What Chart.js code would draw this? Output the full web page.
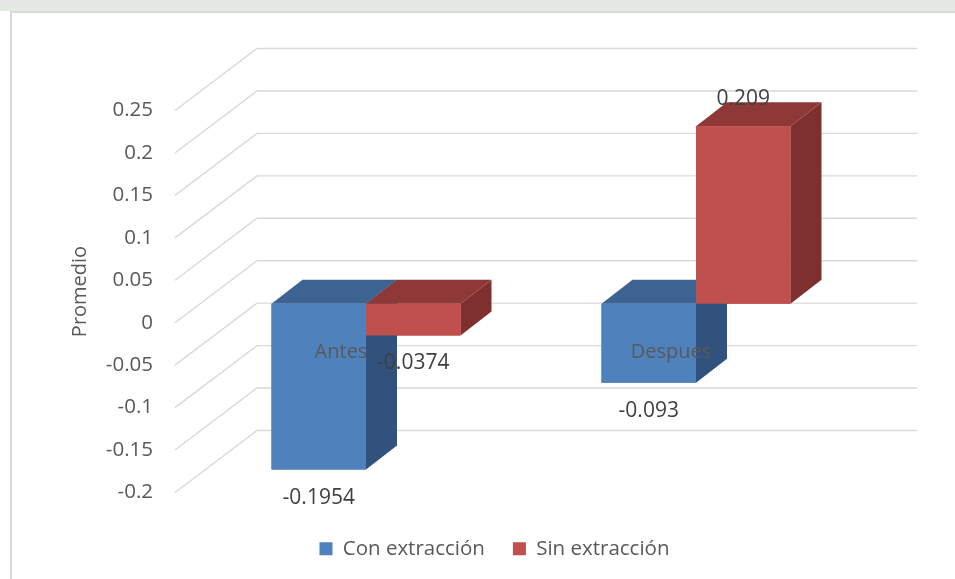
<!DOCTYPE html>
<html>
<head>
<meta charset="utf-8">
<script src="https://cdn.jsdelivr.net/npm/chart.js@4"></script>
<style>
html, body { margin: 0; padding: 0; background: #fff; }
#wrap { position: relative; width: 955px; height: 579px; overflow: hidden; background: #fff; }
#band { position: absolute; left: 0; top: 0; width: 955px; height: 11px; background: #e4e8e3; }
#frame { position: absolute; left: 10px; top: 11px; width: 980px; height: 620px; border: 2px solid #d9d9d9; box-sizing: border-box; background: #fff; }
canvas { position: absolute; left: 0; top: 0; }
</style>
</head>
<body>
<div id="wrap">
  <div id="band"></div>
  <div id="frame"></div>
  <canvas id="chart" width="955" height="579"></canvas>
</div>
<script>
/* --- Datos --- */
const categories = ['Antes', 'Despues'];
const seriesNames = ['Con extracción', 'Sin extracción'];
const conExtraccion = [-0.1954, -0.093];
const sinExtraccion = [-0.0374, 0.209];
const yTickValues = [-0.2, -0.15, -0.1, -0.05, 0, 0.05, 0.1, 0.15, 0.2, 0.25];
const axisTitle = 'Promedio';

/* --- Estilo --- */
const FONT = "'Open Sans', sans-serif";
const TXT = '#595959';
const LABEL_TXT = '#404040';
const BLUE = '#4F81BD';
const RED = '#C0504D';
const shade = {
  [BLUE]: { top: '#3D6392', side: '#30527C' },
  [RED]: { top: '#8E3937', side: '#7E302F' }
};
// desplazamientos de la perspectiva 3D (pixeles)
const BACK = { dx: 56, dy: -43 };
const FRONT = { dx: -26, dy: 19 };
const DEPTH = { dx: 31, dy: -24 };

function poly(ctx, pts, color){
  ctx.beginPath();
  ctx.moveTo(pts[0][0], pts[0][1]);
  for (let i = 1; i < pts.length; i++) ctx.lineTo(pts[i][0], pts[i][1]);
  ctx.closePath();
  ctx.fillStyle = color;
  ctx.fill();
}

function fmt(v){ return String(+v.toFixed(4)); }

/* --- Paredes y lineas de cuadricula --- */
const walls = {
  id: 'walls',
  beforeDatasetsDraw(chart){
    const { ctx, chartArea: a, scales: { y } } = chart;
    ctx.save();
    ctx.strokeStyle = '#d9d9d9';
    ctx.lineWidth = 1.4;
    yTickValues.forEach(v => {
      const py = y.getPixelForValue(v);
      ctx.beginPath();
      ctx.moveTo(a.left + FRONT.dx, py + FRONT.dy);
      ctx.lineTo(a.left + BACK.dx, py + BACK.dy);
      ctx.lineTo(a.right + BACK.dx, py + BACK.dy);
      ctx.stroke();
    });
    // titulo del eje
    const mid = (y.getPixelForValue(yTickValues[0]) + y.getPixelForValue(yTickValues[yTickValues.length - 1])) / 2 + FRONT.dy - 10;
    ctx.fillStyle = TXT;
    ctx.font = `20px ${FONT}`;
    ctx.textAlign = 'center';
    ctx.textBaseline = 'middle';
    ctx.translate(80, mid);
    ctx.rotate(-Math.PI / 2);
    ctx.fillText(axisTitle, 0, 0);
    ctx.restore();
  }
};

/* --- Barras en 3D + etiquetas de datos --- */
const boxes = {
  id: 'boxes',
  afterDatasetsDraw(chart){
    const { ctx } = chart;
    const items = [];
    ctx.save();
    categories.forEach((c, i) => {
      chart.data.datasets.forEach((ds, d) => {
        const bar = chart.getDatasetMeta(d).data[i];
        const { x, y, base, width } = bar.getProps(['x', 'y', 'base', 'width'], true);
        const l = x - width / 2, r = x + width / 2;
        const t = Math.min(y, base), b = Math.max(y, base);
        const col = ds.backgroundColor;
        poly(ctx, [[r, t], [r + DEPTH.dx, t + DEPTH.dy], [r + DEPTH.dx, b + DEPTH.dy], [r, b]], shade[col].side);
        poly(ctx, [[l, t], [l + DEPTH.dx, t + DEPTH.dy], [r + DEPTH.dx, t + DEPTH.dy], [r, t]], shade[col].top);
        ctx.fillStyle = col;
        ctx.fillRect(l, t, r - l, b - t);
        const v = ds.data[i];
        items.push({ x, y: v < 0 ? b + 28 : t - 27, text: fmt(v) });
      });
    });
    ctx.fillStyle = LABEL_TXT;
    ctx.font = `21px ${FONT}`;
    ctx.textAlign = 'center';
    ctx.textBaseline = 'middle';
    items.forEach(it => ctx.fillText(it.text, it.x, it.y));
    ctx.restore();
  }
};

const chart = new Chart(document.getElementById('chart').getContext('2d'), {
  type: 'bar',
  data: {
    labels: categories,
    datasets: [
      { label: seriesNames[0], data: conExtraccion, backgroundColor: BLUE, borderWidth: 0, xAxisID: 'x', yAxisID: 'y' },
      { label: seriesNames[1], data: sinExtraccion, backgroundColor: RED, borderWidth: 0, xAxisID: 'x', yAxisID: 'y' }
    ]
  },
  options: {
    responsive: false,
    animation: false,
    devicePixelRatio: 1,
    events: [],
    layout: { padding: { left: 34, right: 0, top: 91.5, bottom: 10 } },
    datasets: { bar: { barPercentage: 1, categoryPercentage: 189 / 330 } },
    plugins: {
      tooltip: { enabled: false },
      legend: {
        position: 'bottom',
        labels: {
          boxWidth: 13,
          boxHeight: 13,
          padding: 28,
          color: TXT,
          font: { family: FONT, size: 20.5 }
        }
      }
    },
    scales: {
      x: {
        type: 'category',
        axis: 'x',
        position: { y: 0 },
        grid: { display: false, drawTicks: false },
        border: { display: false },
        ticks: { z: 1, color: TXT, font: { family: FONT, size: 20 }, padding: 37, labelOffset: -25, maxRotation: 0 }
      },
      pad: {
        type: 'linear',
        axis: 'x',
        position: 'bottom',
        grid: { display: false, drawTicks: false },
        border: { display: false },
        ticks: { display: false },
        afterFit(s){ s.height = 37; }
      },
      y: {
        type: 'linear',
        position: 'left',
        min: -0.2,
        max: 0.25,
        grid: { display: false, drawTicks: false },
        border: { display: false },
        afterBuildTicks(s){ s.ticks = yTickValues.map(v => ({ value: v })); },
        afterFit(s){ s.width = 167; },
        ticks: {
          color: TXT,
          font: { family: FONT, size: 20.5 },
          padding: 48,
          labelOffset: 19,
          callback: v => fmt(v)
        }
      },
      padR: {
        type: 'linear',
        axis: 'y',
        position: 'right',
        grid: { display: false, drawTicks: false },
        border: { display: false },
        ticks: { display: false },
        afterFit(s){ s.width = 94; }
      }
    }
  },
  plugins: [walls, boxes]
});
</script>
</body>
</html>
